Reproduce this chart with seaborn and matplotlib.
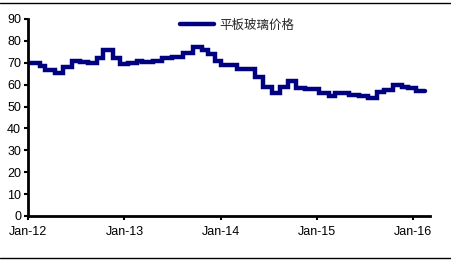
import matplotlib
matplotlib.use("Agg")
import matplotlib.pyplot as plt
import matplotlib.dates as mdates
from matplotlib.lines import Line2D
import pandas as pd
import seaborn as sns

# change dates of the weekly price series (step line) and values
dates = ["2012-01-04", "2012-02-15", "2012-03-04", "2012-04-12", "2012-05-12",
         "2012-06-15", "2012-07-15", "2012-08-15", "2012-09-18", "2012-10-11",
         "2012-11-18", "2012-12-15", "2013-01-15", "2013-02-18", "2013-03-10",
         "2013-04-18", "2013-05-25", "2013-07-02", "2013-08-10", "2013-09-17",
         "2013-10-21", "2013-11-13", "2013-12-10", "2014-01-02", "2014-03-05",
         "2014-05-12", "2014-06-12", "2014-07-15", "2014-08-15", "2014-09-12",
         "2014-10-12", "2014-11-18", "2015-01-09", "2015-02-15", "2015-03-12",
         "2015-05-01", "2015-06-08", "2015-07-15", "2015-08-18", "2015-09-12",
         "2015-10-15", "2015-11-21", "2015-12-11", "2016-01-11", "2016-02-16"]
prices = [70.0, 68.5, 66.5, 65.5, 68.0,
          71.0, 70.5, 70.0, 72.0, 76.0,
          72.0, 69.5, 70.0, 71.0, 70.5,
          71.0, 72.0, 72.5, 74.5, 77.0,
          76.0, 74.0, 71.0, 69.0, 67.0,
          63.5, 59.0, 56.0, 59.0, 61.5,
          58.5, 58.0, 56.0, 55.0, 56.0,
          55.5, 55.0, 53.8, 56.8, 57.5,
          60.0, 59.0, 58.5, 57.0, 57.0]
series_name = "平板玻璃价格"
yticks = [0, 10, 20, 30, 40, 50, 60, 70, 80, 90]
xtick_dates = ["2012-01-01", "2013-01-01", "2014-01-01", "2015-01-01", "2016-01-01"]

df = pd.DataFrame({"date": pd.to_datetime(dates), "price": prices, "series": series_name})

sns.set_theme(style="white")
plt.rcParams["font.family"] = ["Liberation Sans", "Noto Sans CJK SC", "DejaVu Sans"]

fig = plt.figure(figsize=(4.52, 2.61), dpi=100)
ax = fig.add_axes([28 / 452, 45 / 261, 402 / 452, 197 / 261])

sns.lineplot(data=df, x="date", y="price", hue="series", palette=["#000080"],
             drawstyle="steps-post", linewidth=3.2, ax=ax, legend=True,
             solid_joinstyle="miter")

ax.set_xlim(pd.Timestamp("2012-01-01"), pd.Timestamp("2016-03-05"))
ax.set_ylim(0, 90)
ax.set_yticks(yticks)
ax.set_xticks(pd.to_datetime(xtick_dates))
ax.xaxis.set_major_formatter(mdates.DateFormatter("%b-%y"))
ax.set_xlabel("")
ax.set_ylabel("")

for s in ["top", "right"]:
    ax.spines[s].set_visible(False)
for s in ["left", "bottom"]:
    ax.spines[s].set_color("black")
    ax.spines[s].set_linewidth(2.0)

ax.tick_params(axis="both", which="major", labelsize=9, colors="black",
               length=3, width=1.5, direction="out", pad=2)
ax.tick_params(axis="y", left=True)
ax.tick_params(axis="x", bottom=True, pad=4)

leg = ax.legend(loc="center", bbox_to_anchor=(0.52, 0.97), frameon=False,
                handlelength=2.7, fontsize=9, borderaxespad=0, handletextpad=0.4)
for t in leg.get_texts():
    t.set_fontfamily(["Noto Sans CJK SC", "DejaVu Sans"])

fig.add_artist(Line2D([0, 1], [1 - 2.5 / 261, 1 - 2.5 / 261], transform=fig.transFigure,
                      color="black", linewidth=1.0))
fig.add_artist(Line2D([0, 1], [3.5 / 261, 3.5 / 261], transform=fig.transFigure,
                      color="black", linewidth=1.0))

fig.savefig("out.png", dpi=100)
